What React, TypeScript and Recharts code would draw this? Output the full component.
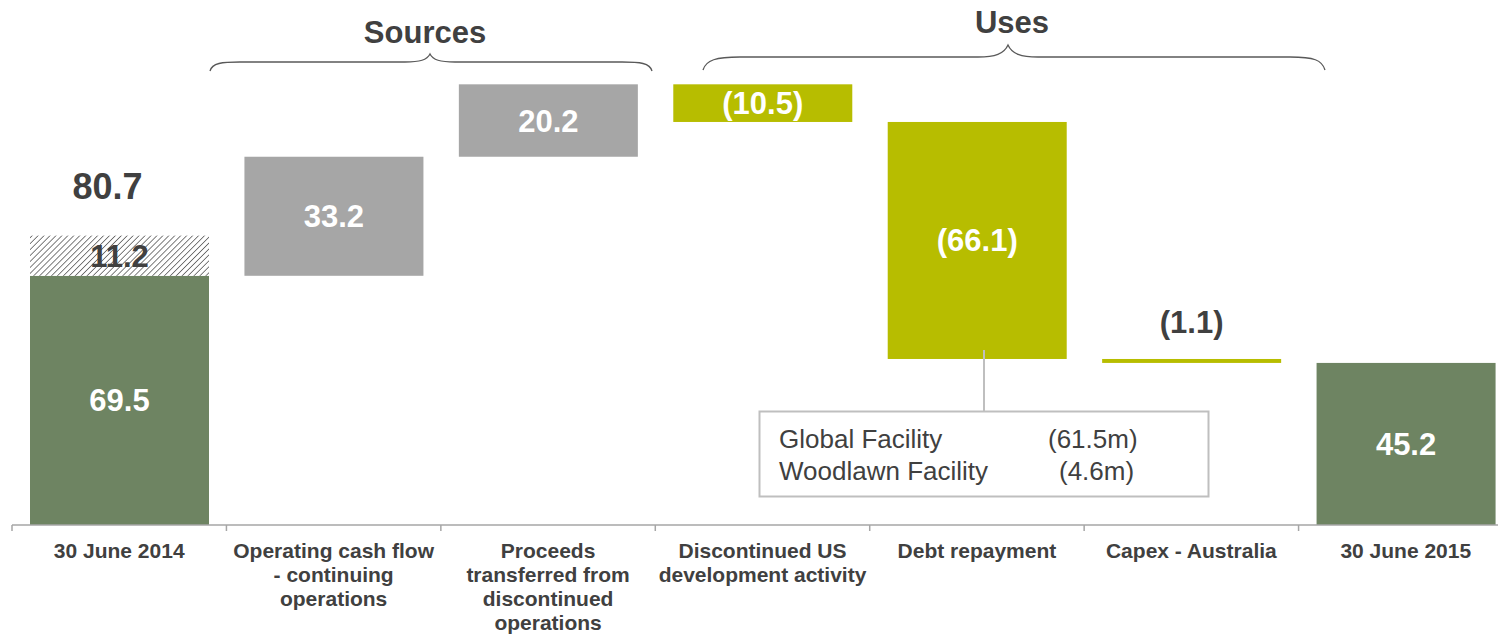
import React from 'react';
import { BarChart, Bar, XAxis, YAxis } from 'recharts';

// ---- data ----
const categories = [
  '30 June 2014',
  'Operating cash flow\n- continuing\noperations',
  'Proceeds\ntransferred from\ndiscontinued\noperations',
  'Discontinued US\ndevelopment activity',
  'Debt repayment',
  'Capex - Australia',
  '30 June 2015',
];
const kinds = ['total', 'source', 'source', 'use', 'use', 'use', 'total'];
const changes = [69.5, 33.2, 20.2, -10.5, -66.1, -1.1, 45.2];
const valueLabels = ['69.5', '33.2', '20.2', '(10.5)', '(66.1)', '(1.1)', '45.2'];
const restrictedCash = [11.2, 0, 0, 0, 0, 0, 0];
const restrictedLabels = ['11.2', '', '', '', '', '', ''];
const openingTotalLabels = ['80.7', '', '', '', '', '', ''];
const groupTitles = ['Sources', 'Uses'];
const calloutNames = ['Global Facility', 'Woodlawn Facility'];
const calloutValues = ['(61.5m)', '(4.6m)'];

const COLORS: Record<string, string> = {
  total: '#6E8462',
  source: '#A6A6A6',
  use: '#B7BD00',
};
const TEXT = '#404040';
const FONT = '"Liberation Sans", Arial, Helvetica, sans-serif';

// build waterfall table
let running = 0;
const data = categories.map((name, i) => {
  const kind = kinds[i];
  const v = changes[i];
  let base = 0;
  let value = 0;
  if (kind === 'total') {
    base = 0;
    value = v;
    running = v;
  } else if (v >= 0) {
    base = running;
    value = v;
    running += v;
  } else {
    running += v;
    base = running;
    value = -v;
  }
  return {
    name,
    kind,
    base,
    value,
    extra: restrictedCash[i],
    label: valueLabels[i],
    extraLabel: restrictedLabels[i],
    totalLabel: openingTotalLabels[i],
  };
});

const MainShape = (props: any) => {
  const { x, y, width, height, payload } = props;
  if (!payload) return null;
  const fill = COLORS[payload.kind];
  const cx = x + width / 2;
  const small = height < 20;
  return (
    <g>
      <rect x={x} y={y} width={width} height={Math.max(height, 0)} fill={fill} />
      <text
        x={cx}
        y={small ? y - 26 : y + height / 2 + 11}
        textAnchor="middle"
        fontFamily={FONT}
        fontWeight="bold"
        fontSize={31}
        fill={small ? TEXT : '#FFFFFF'}
      >
        {payload.label}
      </text>
    </g>
  );
};

const HatchShape = (props: any) => {
  const { x, y, width, height, payload } = props;
  if (!payload || !payload.extra) return null;
  const cx = x + width / 2;
  return (
    <g>
      <defs>
        <pattern
          id="hatch"
          width="4.2"
          height="4.2"
          patternUnits="userSpaceOnUse"
          patternTransform="rotate(45)"
        >
          <rect width="4.2" height="4.2" fill="#FFFFFF" />
          <line x1="0" y1="0" x2="0" y2="4.2" stroke="#3A3A3A" strokeWidth="1.3" />
        </pattern>
      </defs>
      <rect x={x} y={y} width={width} height={height} fill="url(#hatch)" />
      <text
        x={cx}
        y={y + height / 2 + 11}
        textAnchor="middle"
        fontFamily={FONT}
        fontWeight="bold"
        fontSize={31}
        fill={TEXT}
      >
        {payload.extraLabel}
      </text>
      <text
        x={cx - 12}
        y={y - 37}
        textAnchor="middle"
        fontFamily={FONT}
        fontWeight="bold"
        fontSize={36}
        fill={TEXT}
      >
        {payload.totalLabel}
      </text>
    </g>
  );
};

const CategoryTick = (props: any) => {
  const { x, y, payload, index } = props;
  const half = payload && payload.offset ? payload.offset : 0;
  const lines = String(payload.value).split('\n');
  const isLast = index === categories.length - 1;
  return (
    <g>
      <line x1={x - half} y1={y} x2={x - half} y2={y + 6} stroke="#A6A6A6" strokeWidth={1.5} />
      {isLast && (
        <line x1={x + half} y1={y} x2={x + half} y2={y + 6} stroke="#A6A6A6" strokeWidth={1.5} />
      )}
      <text
        x={x}
        y={y + 33}
        textAnchor="middle"
        fontFamily={FONT}
        fontWeight="bold"
        fontSize={21}
        fill={TEXT}
      >
        {lines.map((l, i) => (
          <tspan key={i} x={x} dy={i === 0 ? 0 : 24}>
            {l}
          </tspan>
        ))}
      </text>
    </g>
  );
};

export default function App() {
  return (
    <div
      style={{
        position: 'fixed',
        left: 0,
        top: 0,
        width: 1498,
        height: 634,
        overflow: 'hidden',
        background: '#FFFFFF',
      }}
    >
      <BarChart
        width={1520}
        height={634}
        data={data}
        margin={{ top: 23, right: 7, left: 12, bottom: 0 }}
        barSize={179}
      >
        <YAxis hide domain={[0, 140]} />
        <XAxis
          dataKey="name"
          interval={0}
          height={109}
          tickLine={false}
          tickSize={0}
          tickMargin={0}
          axisLine={{ stroke: '#A6A6A6', strokeWidth: 1.5 }}
          tick={<CategoryTick />}
        />
        <Bar dataKey="base" stackId="w" fill="transparent" isAnimationActive={false} />
        <Bar dataKey="value" stackId="w" shape={<MainShape />} isAnimationActive={false} />
        <Bar dataKey="extra" stackId="w" shape={<HatchShape />} isAnimationActive={false} />
      </BarChart>
      <svg
        width={1498}
        height={634}
        style={{ position: 'absolute', left: 0, top: 0, pointerEvents: 'none' }}
      >
        <text x={425} y={43} textAnchor="middle" fontFamily={FONT} fontWeight="bold" fontSize={31} fill={TEXT}>
          {groupTitles[0]}
        </text>
        <text x={1012} y={33} textAnchor="middle" fontFamily={FONT} fontWeight="bold" fontSize={31} fill={TEXT}>
          {groupTitles[1]}
        </text>
        <path
          d="M210,71 C212,63 222,62 240,62 L405,62 C420,62 427,60 430,54 C433,60 440,62 455,62 L622,62 C640,62 650,63 652,71"
          fill="none"
          stroke="#595959"
          strokeWidth={1.3}
        />
        <path
          d="M703,70 C706,60 716,57 740,57 L978,57 C995,57 1004,54 1008,45 C1012,54 1021,57 1038,57 L1290,57 C1314,57 1322,60 1325,70"
          fill="none"
          stroke="#595959"
          strokeWidth={1.3}
        />
        <line x1={984} y1={350} x2={984} y2={411} stroke="#BFBFBF" strokeWidth={2} />
        <rect x={759.5} y={411.5} width={449} height={85} fill="#FFFFFF" stroke="#BFBFBF" strokeWidth={2} />
        {calloutNames.map((n, i) => (
          <text key={n} x={779} y={448 + i * 32} fontFamily={FONT} fontSize={26} fill={TEXT}>
            {n}
          </text>
        ))}
        {calloutValues.map((v, i) => (
          <text key={v} x={i === 0 ? 1048 : 1059} y={448 + i * 32} fontFamily={FONT} fontSize={26} fill={TEXT}>
            {v}
          </text>
        ))}
      </svg>
    </div>
  );
}
